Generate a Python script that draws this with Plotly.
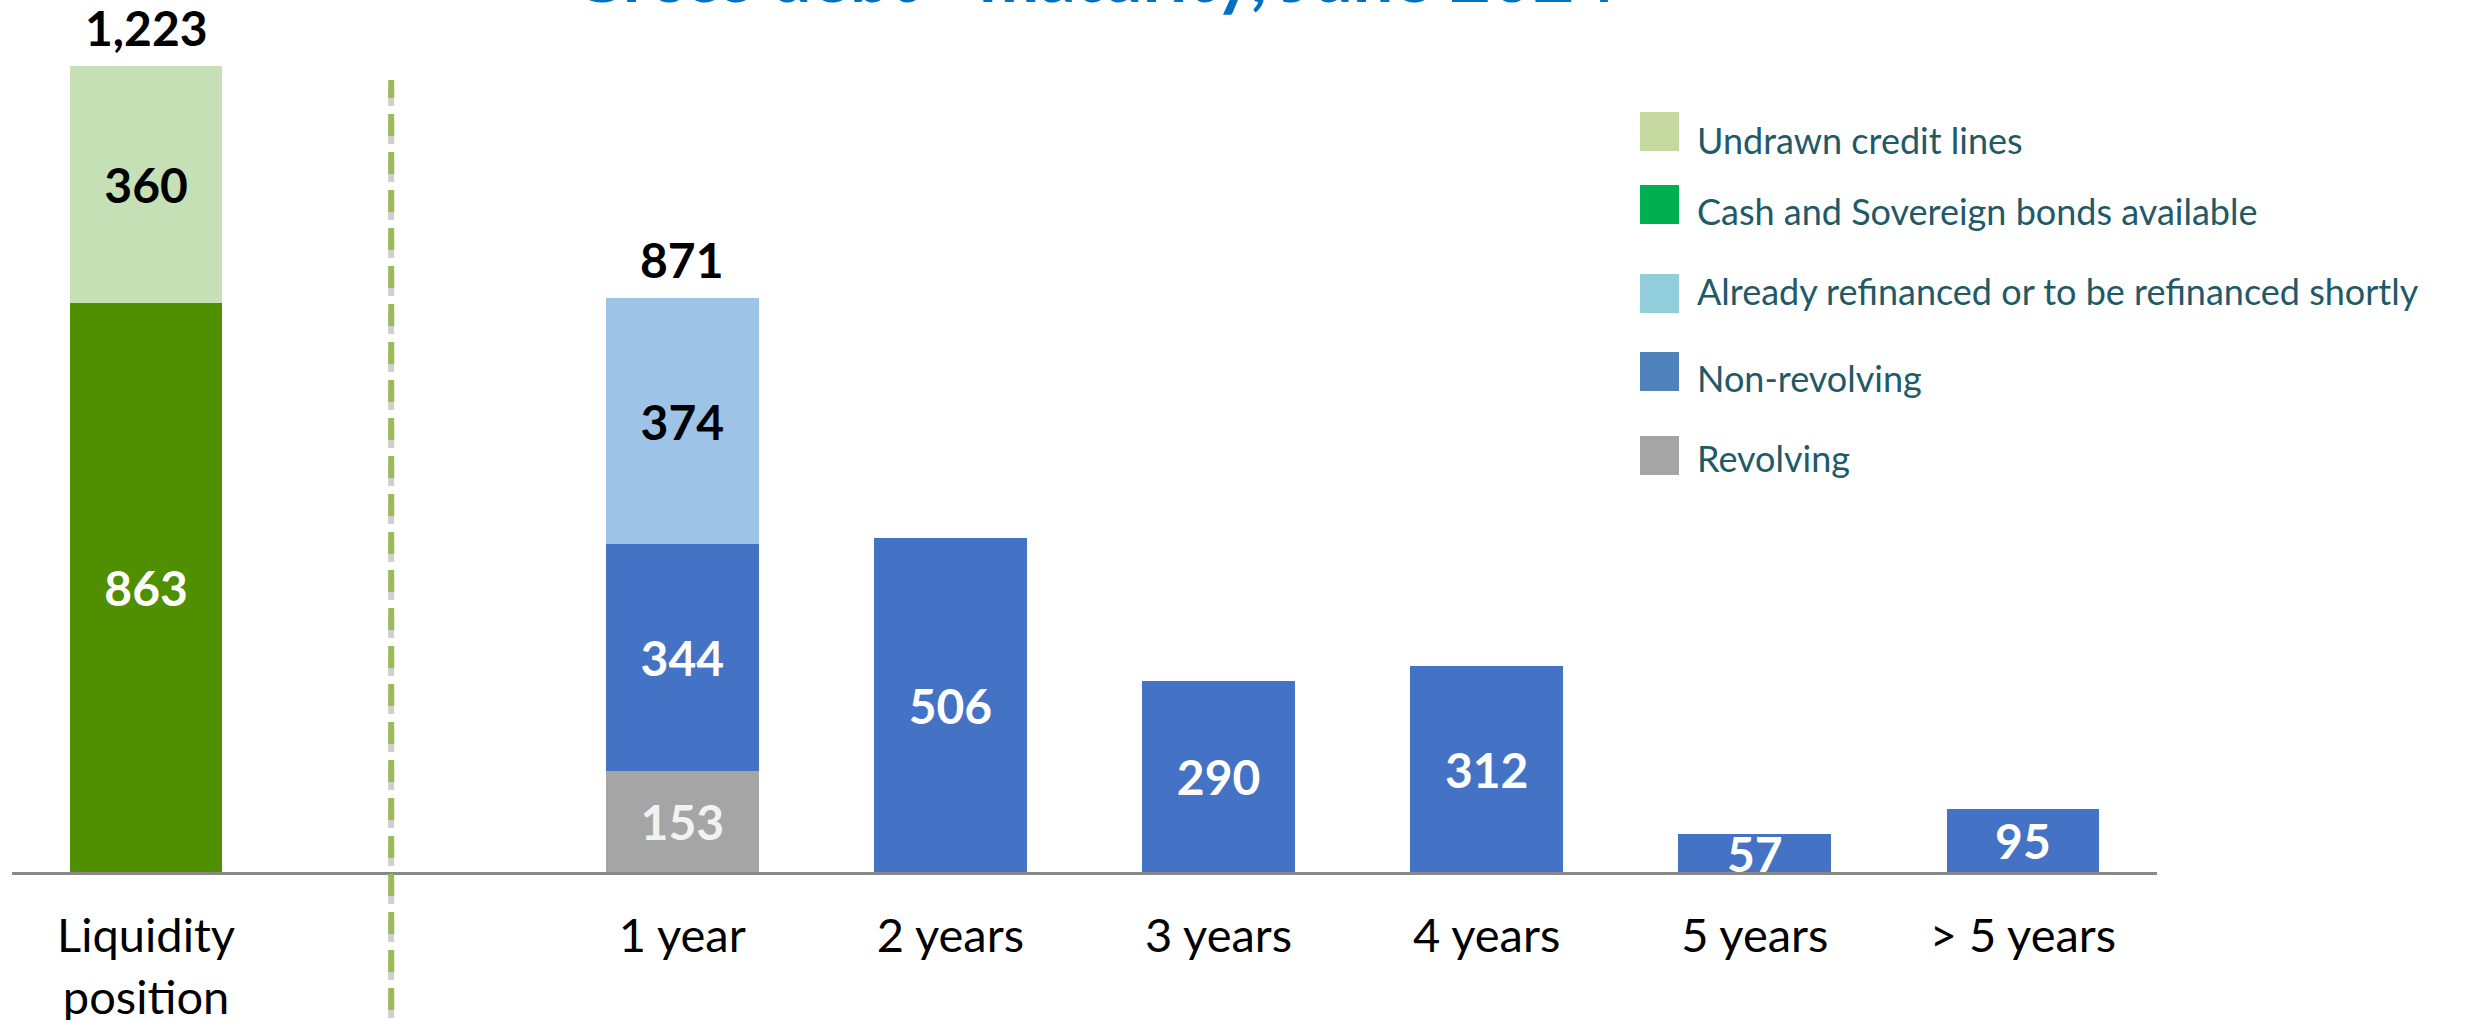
import plotly.graph_objects as go

# ---------------- data ----------------
categories = ["Liquidity<br>position", " ", "1 year", "2 years", "3 years", "4 years", "5 years", "> 5 years"]

cash_sovereign = [863, None, None, None, None, None, None, None]
undrawn_lines = [360, None, None, None, None, None, None, None]
revolving = [None, None, 153, None, None, None, None, None]
non_revolving = [None, None, 344, 506, 290, 312, 57, 95]
refinanced = [None, None, 374, None, None, None, None, None]

legend_labels = [
    "Undrawn credit lines",
    "Cash and Sovereign bonds available",
    "Already refinanced or to be refinanced shortly",
    "Non-revolving",
    "Revolving",
]
legend_colors = ["#C4D89F", "#00B050", "#92CDDC", "#4F81BD", "#A5A5A5"]

title_text = "Gross debt - maturity, June 2024"

# ---------------- style ----------------
FONT = "Lato"
W, H = 2489, 1020
ML, MR, MT, MB = 12, 332, 0, 148
PW = W - ML - MR
PH = H - MT - MB


def px_x(p):
    return (p - ML) / PW


def px_y(p):
    return (H - MB - p) / PH


def txt(vals):
    return [("" if v is None else f"{v:,}") for v in vals]


fig = go.Figure()

series = [
    ("Cash and Sovereign bonds available", cash_sovereign, "#4F8F00", "#FFFFFF"),
    ("Undrawn credit lines", undrawn_lines, "#C5E0B4", "#000000"),
    ("Revolving", revolving, "#A5A5A5", "#F2F2F2"),
    ("Non-revolving", non_revolving, "#4472C4", "#FFFFFF"),
    ("Already refinanced or to be refinanced shortly", refinanced, "#9DC3E6", "#000000"),
]

for name, vals, color, tcolor in series:
    fig.add_trace(go.Bar(
        name=name,
        x=categories,
        y=vals,
        width=0.57,
        marker=dict(color=color, line=dict(width=0)),
        text=txt(vals),
        textposition="inside",
        insidetextanchor="middle",
        textangle=0,
        constraintext="none",
        textfont=dict(family=FONT, size=48, color=tcolor, weight="bold"),
        cliponaxis=False,
        showlegend=False,
        hoverinfo="skip",
    ))

# totals above the stacks
for i, cat in enumerate(categories):
    parts = [s[1][i] for s in series if s[1][i] is not None]
    if len(parts) > 1:
        total = sum(parts)
        fig.add_annotation(
            x=cat, y=total, xref="x", yref="y",
            text=f"<b>{total:,}</b>", showarrow=False,
            yanchor="middle", yshift=38,
            font=dict(family=FONT, size=48, color="#000000"),
        )

# separator dashed line (with soft grey shadow)
sep_x = (391 - 146) / 268
fig.add_shape(type="line", xref="x", yref="paper",
              x0=sep_x, x1=sep_x, y0=px_y(1018), y1=px_y(88),
              line=dict(color="#CFCFCF", width=6, dash="22px,16px"))
fig.add_shape(type="line", xref="x", yref="paper",
              x0=sep_x, x1=sep_x, y0=px_y(1010), y1=px_y(80),
              line=dict(color="#9BBB59", width=6, dash="22px,16px"))

# custom legend
sq_tops = [112, 185, 274, 352, 436]
text_mid = [140, 211, 291, 378, 458]
for lab, col, top, mid in zip(legend_labels, legend_colors, sq_tops, text_mid):
    fig.add_shape(type="rect", xref="paper", yref="paper",
                  x0=px_x(1640), x1=px_x(1679), y0=px_y(top + 39), y1=px_y(top),
                  fillcolor=col, line=dict(width=0))
    fig.add_annotation(x=px_x(1695), y=px_y(mid), xref="paper", yref="paper",
                       text=lab, showarrow=False, xanchor="left", yanchor="middle",
                       font=dict(family=FONT, size=36, color="#215967"))

# partially visible title at the very top
fig.add_annotation(x=px_x(1093), y=px_y(19), xref="paper", yref="paper",
                   text=f"<b>{title_text}</b>", showarrow=False,
                   xanchor="center", yanchor="bottom",
                   font=dict(family=FONT, size=72, color="#0070C0"))

fig.update_layout(
    width=W, height=H,
    margin=dict(l=ML, r=MR, t=MT, b=MB, pad=0, autoexpand=False),
    barmode="stack",
    paper_bgcolor="#FFFFFF",
    plot_bgcolor="#FFFFFF",
    showlegend=False,
    uniformtext=dict(minsize=48, mode="show"),
    xaxis=dict(
        type="category",
        categoryorder="array", categoryarray=categories,
        range=[-0.5, 7.5],
        automargin=False,
        showline=True, linecolor="#898989", linewidth=3,
        showgrid=False, zeroline=False,
        ticks="outside", ticklen=21, tickcolor="rgba(0,0,0,0)",
        tickfont=dict(family=FONT, size=47, color="#000000"),
    ),
    yaxis=dict(visible=False, automargin=False, range=[0, 1323], showgrid=False, zeroline=False),
)

fig.write_html("out.html", config={"displayModeBar": False},
               post_script="document.body.style.margin='0';")
